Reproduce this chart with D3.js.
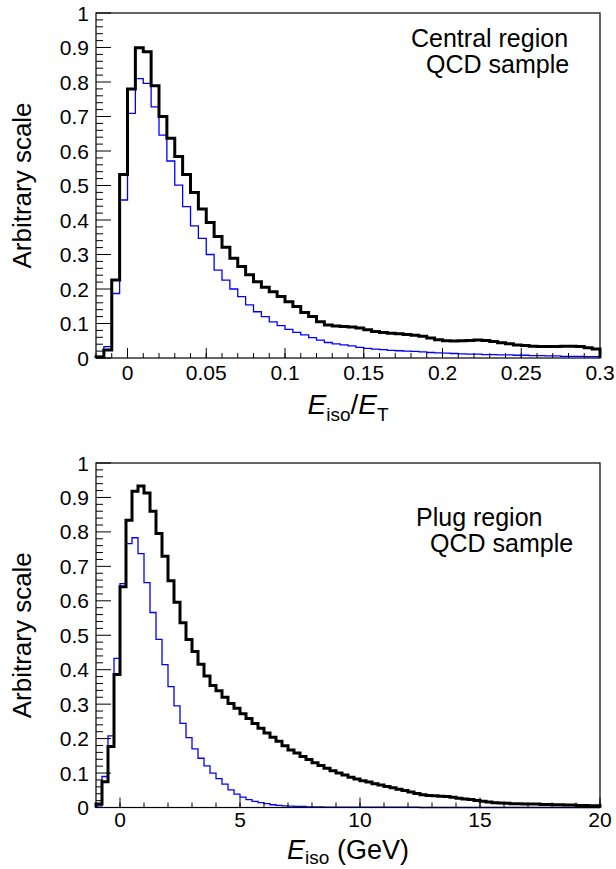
<!DOCTYPE html>
<html><head><meta charset="utf-8">
<script src="https://cdn.jsdelivr.net/npm/d3@7"></script>
<style>body{margin:0;background:#fff}svg{display:block}text{font-family:"Liberation Sans",Arial,sans-serif;fill:#000}</style>
</head><body><svg id="c" width="616" height="869"></svg>
<script>
// Top panel: E_iso/E_T, bins of 0.005 from -0.02
const topBinStart = -0.02, topBinWidth = 0.005;
const topBlack = [0.003,0.023,0.226,0.532,0.780,0.899,0.888,0.789,0.700,0.637,
0.584,0.532,0.480,0.432,0.393,0.352,0.321,0.289,0.265,0.241,
0.221,0.205,0.192,0.178,0.163,0.149,0.132,0.120,0.105,0.096,
0.093,0.091,0.090,0.087,0.082,0.077,0.074,0.072,0.070,0.068,
0.066,0.063,0.058,0.053,0.050,0.049,0.050,0.051,0.052,0.051,
0.048,0.044,0.041,0.038,0.036,0.034,0.033,0.033,0.033,0.034,
0.034,0.033,0.030,0.026];
const topBlue = [0.005,0.033,0.187,0.458,0.709,0.810,0.796,0.728,0.646,0.571,
0.501,0.439,0.383,0.347,0.300,0.255,0.226,0.200,0.178,0.154,
0.134,0.120,0.105,0.094,0.083,0.074,0.067,0.059,0.052,0.045,
0.041,0.038,0.035,0.031,0.028,0.026,0.024,0.022,0.021,0.020,
0.019,0.018,0.016,0.015,0.014,0.013,0.012,0.011,0.011,0.010,
0.010,0.009,0.009,0.008,0.008,0.007,0.007,0.006,0.006,0.005,
0.005,0.005,0.004,0.004];
const topXTicks = [0,0.05,0.1,0.15,0.2,0.25,0.3];
const topXTickLabels = ["0","0.05","0.1","0.15","0.2","0.25","0.3"];

// Bottom panel: E_iso (GeV), bins of 0.25 from -1
const botBinStart = -1, botBinWidth = 0.25;
const botBlack = [0.010,0.075,0.177,0.386,0.641,0.834,0.918,0.933,0.913,0.860,
0.795,0.729,0.658,0.596,0.536,0.488,0.453,0.416,0.382,0.354,
0.339,0.320,0.302,0.288,0.272,0.258,0.244,0.230,0.216,0.204,
0.192,0.179,0.167,0.158,0.148,0.139,0.130,0.122,0.114,0.107,
0.100,0.094,0.088,0.083,0.078,0.074,0.069,0.065,0.061,0.057,
0.053,0.049,0.045,0.041,0.037,0.035,0.034,0.033,0.032,0.030,
0.027,0.025,0.023,0.020,0.018,0.016,0.014,0.013,0.012,0.011,
0.011,0.010,0.010,0.010,0.009,0.009,0.008,0.008,0.007,0.007,
0.006,0.006,0.005,0.005];
const botBlue = [0.005,0.090,0.208,0.433,0.650,0.766,0.783,0.737,0.653,0.566,
0.488,0.415,0.351,0.295,0.244,0.203,0.170,0.143,0.121,0.100,
0.084,0.068,0.051,0.039,0.030,0.023,0.018,0.014,0.011,0.008,
0.006,0.005,0.004,0.003,0.003,0.002,0.002,0.002,0.001,0.001,
0.001,0.001,0.001,0.001,0.001,0.001,0.001,0.001,0.001,0.001,
0.001,0.001,0.001,0.001,0.000,0.000,0.000,0.000,0.000,0.000,
0.000,0.000,0.000,0.000,0.000,0.000,0.000,0.000,0.000,0.000,
0.000,0.000,0.000,0.000,0.000,0.000,0.000,0.000,0.000,0.000,
0.000,0.000,0.000,0.000];
const botXTicks = [0,5,10,15,20];
const botXTickLabels = ["0","5","10","15","20"];

const yTicks = [0,0.1,0.2,0.3,0.4,0.5,0.6,0.7,0.8,0.9,1];
const yTickLabels = ["0","0.1","0.2","0.3","0.4","0.5","0.6","0.7","0.8","0.9","1"];

const svg = d3.select("#c");

function panel(o){
  const g = svg.append("g");
  const x = d3.scaleLinear().domain(o.xdom).range([96,600]);
  const y = d3.scaleLinear().domain([0,1]).range([o.y0,o.y1]);
  function steps(vals){
    const pts = [[x(o.binStart), y(0)]];
    vals.forEach((v,i)=>{
      const a = o.binStart + i*o.binWidth, b = a + o.binWidth;
      pts.push([x(a), y(v)]); pts.push([x(Math.min(b,o.xdom[1])), y(v)]);
    });
    pts.push([x(o.xdom[1]), y(0)]);
    return d3.line()(pts);
  }
  g.append("path").attr("d", steps(o.blue)).attr("fill","none").attr("stroke","#0000ff").attr("stroke-width",1.3);
  g.append("path").attr("d", steps(o.black)).attr("fill","none").attr("stroke","#000").attr("stroke-width",3).attr("stroke-linejoin","miter");
  const yMinor = d3.range(0,1.0001,0.02);
  g.selectAll(".ymin").data(yMinor).enter().append("line")
    .attr("x1",96).attr("x2",d=> (Math.abs(d*10-Math.round(d*10))<1e-6)?111:103)
    .attr("y1",d=>y(d)).attr("y2",d=>y(d)).attr("stroke","#000").attr("stroke-width",1);
  g.selectAll(".ylab").data(yTicks).enter().append("text")
    .attr("x",89).attr("y",d=>y(d)+7.5).attr("text-anchor","end").attr("font-size",21)
    .text((d,i)=>yTickLabels[i]);
  const xMinor = d3.range(o.xdom[0], o.xdom[1]+o.minorStep/2, o.minorStep);
  g.selectAll(".xmin").data(xMinor).enter().append("line")
    .attr("x1",d=>x(d)).attr("x2",d=>x(d)).attr("y1",o.y0).attr("y2",o.y0-5)
    .attr("stroke","#000").attr("stroke-width",1);
  g.selectAll(".xmaj").data(o.xTicks).enter().append("line")
    .attr("x1",d=>x(d)).attr("x2",d=>x(d)).attr("y1",o.y0).attr("y2",o.y0-10)
    .attr("stroke","#000").attr("stroke-width",1);
  g.selectAll(".xlab").data(o.xTicks).enter().append("text")
    .attr("x",d=>x(d)).attr("y",o.y0+o.labOff).attr("text-anchor","middle").attr("font-size",21)
    .text((d,i)=>o.xTickLabels[i]);
  g.append("rect").attr("x",96).attr("y",o.y1).attr("width",504).attr("height",o.y0-o.y1)
    .attr("fill","none").attr("stroke","#000").attr("stroke-width",1.2);
  g.append("text").attr("transform",`translate(31,${(o.y0+o.y1)/2}) rotate(-90)`)
    .attr("text-anchor","middle").attr("font-size",26).text("Arbitrary scale");
  o.labels.forEach(l=>{
    g.append("text").attr("x",l.x).attr("y",l.y).attr("font-size",25).text(l.t);
  });
  o.title(g);
}

panel({xdom:[-0.02,0.3], y0:358, y1:13, binStart:topBinStart, binWidth:topBinWidth, labOff:22,
  black:topBlack, blue:topBlue, xTicks:topXTicks, xTickLabels:topXTickLabels, minorStep:0.01,
  labels:[{x:411,y:47,t:"Central region"},{x:426,y:73,t:"QCD sample"}],
  title:g=>{
    const t = g.append("text").attr("x",348).attr("y",414).attr("text-anchor","middle").attr("font-size",28);
    t.append("tspan").attr("font-style","italic").text("E");
    t.append("tspan").attr("font-size",19).attr("dy",7).text("iso");
    t.append("tspan").attr("dy",-7).text("/");
    t.append("tspan").attr("font-style","italic").text("E");
    t.append("tspan").attr("font-size",19).attr("dy",7).text("T");
  }});

panel({xdom:[-1,20], y0:807.5, y1:463, binStart:botBinStart, binWidth:botBinWidth, labOff:19,
  black:botBlack, blue:botBlue, xTicks:botXTicks, xTickLabels:botXTickLabels, minorStep:1,
  labels:[{x:416,y:526,t:"Plug region"},{x:430,y:552,t:"QCD sample"}],
  title:g=>{
    const t = g.append("text").attr("x",348).attr("y",859).attr("text-anchor","middle").attr("font-size",27);
    t.append("tspan").attr("font-style","italic").text("E");
    t.append("tspan").attr("font-size",19).attr("dy",5).text("iso");
    t.append("tspan").attr("dy",-5).text(" (GeV)");
  }});
</script></body></html>
